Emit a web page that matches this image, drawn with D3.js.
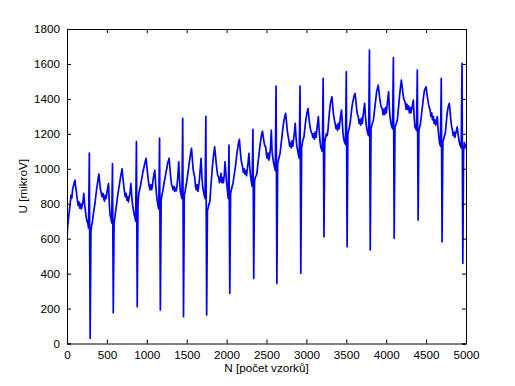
<!DOCTYPE html>
<html>
<head>
<meta charset="utf-8">
<script src="https://cdn.jsdelivr.net/npm/d3@7"></script>
<style>
  body { margin: 0; background: #fff; }
  svg { display: block; }
</style>
</head>
<body>
<div id="chart"></div>
<script>
// ECG record, one value every 10 samples (N = 0 .. 5000)
const sampleStep = 10
const voltage = [
  600, 680, 720, 760, 800, 850, 830, 880, 900, 920,
  935, 890, 860, 820, 790, 810, 775, 800, 770, 790,
  810, 860, 800, 760, 725, 700, 690, 660, 1090, 30,
  640, 680, 700, 740, 770, 800, 840, 880, 910, 945,
  970, 920, 880, 860, 840, 860, 830, 815, 850, 830,
  860, 890, 915, 800, 735, 720, 690, 1030, 176, 690,
  720, 760, 790, 830, 860, 890, 920, 950, 975, 1000,
  950, 910, 870, 840, 860, 820, 840, 810, 840, 860,
  915, 850, 800, 770, 740, 725, 700, 1155, 211, 800,
  860, 880, 900, 930, 950, 980, 1000, 1020, 1040, 1060,
  1020, 970, 930, 900, 880, 910, 880, 900, 940, 970,
  992, 920, 860, 820, 790, 770, 1175, 192, 820, 850,
  870, 900, 930, 950, 980, 1000, 1030, 1045, 1060, 1000,
  950, 910, 897, 880, 900, 870, 890, 875, 910, 960,
  1040, 940, 870, 850, 830, 1288, 153, 850, 870, 900,
  925, 960, 990, 1030, 1060, 1090, 1117, 1060, 1000, 970,
  954, 900, 880, 910, 870, 900, 940, 1000, 1060, 960,
  900, 870, 850, 830, 1300, 163, 760, 780, 800, 811,
  880, 940, 1000, 1050, 1090, 1126, 1080, 1030, 990, 960,
  954, 920, 940, 974, 920, 950, 920, 960, 1040, 980,
  920, 878, 830, 1136, 287, 860, 880, 900, 916, 950,
  980, 1010, 1050, 1090, 1120, 1150, 1168, 1110, 1060, 1030,
  1011, 980, 1000, 970, 990, 960, 1000, 1040, 1088, 1010,
  960, 926, 900, 1225, 373, 930, 950, 960, 974, 1020,
  1060, 1100, 1140, 1170, 1200, 1215, 1180, 1150, 1130, 1126,
  1080, 1060, 1090, 1050, 1080, 1120, 1221, 1100, 1060, 1031,
  1010, 990, 1473, 344, 1030, 1050, 1070, 1088, 1130, 1170,
  1210, 1250, 1280, 1300, 1317, 1270, 1220, 1190, 1164, 1130,
  1150, 1120, 1160, 1130, 1170, 1210, 1260, 1180, 1130, 1107,
  1080, 1060, 1473, 402, 1120, 1150, 1170, 1183, 1230, 1270,
  1300, 1325, 1345, 1300, 1260, 1230, 1210, 1202, 1180, 1200,
  1170, 1210, 1180, 1220, 1260, 1298, 1220, 1160, 1126, 1110,
  1100, 1517, 611, 1150, 1180, 1200, 1190, 1220, 1280, 1330,
  1370, 1395, 1412, 1360, 1310, 1280, 1260, 1230, 1250, 1220,
  1260, 1230, 1270, 1310, 1336, 1260, 1200, 1164, 1150, 1140,
  1555, 554, 1200, 1220, 1240, 1270, 1310, 1350, 1380, 1400,
  1420, 1431, 1390, 1340, 1310, 1298, 1260, 1280, 1250, 1290,
  1260, 1300, 1340, 1374, 1300, 1250, 1221, 1200, 1190, 1679,
  535, 1230, 1250, 1265, 1279, 1320, 1360, 1400, 1440, 1460,
  1479, 1440, 1400, 1370, 1350, 1345, 1310, 1340, 1310, 1350,
  1320, 1360, 1400, 1441, 1340, 1290, 1260, 1240, 1230, 1637,
  602, 1240, 1250, 1265, 1279, 1330, 1380, 1430, 1470, 1508,
  1470, 1430, 1400, 1390, 1374, 1340, 1370, 1340, 1360, 1320,
  1350, 1320, 1340, 1370, 1393, 1300, 1240, 1230, 1220, 1565,
  707, 1220, 1240, 1260, 1300, 1340, 1380, 1420, 1450, 1460,
  1469, 1430, 1400, 1370, 1350, 1336, 1300, 1320, 1280, 1300,
  1260, 1280, 1250, 1270, 1298, 1230, 1180, 1145, 1130, 1517,
  582, 1150, 1170, 1190, 1202, 1250, 1300, 1340, 1360, 1374,
  1330, 1280, 1240, 1221, 1190, 1210, 1180, 1200, 1220, 1240,
  1200, 1170, 1145, 1130, 1120, 1603, 459, 1100, 1150, 1120,
  1140
]

const xTicks = [0, 500, 1000, 1500, 2000, 2500, 3000, 3500, 4000, 4500, 5000]
const yTicks = [0, 200, 400, 600, 800, 1000, 1200, 1400, 1600, 1800]
const xTitle = "N [počet vzorků]"
const yTitle = "U [mikroV]"

const size = [515, 386]
const margin = {top: 29, right: 49, bottom: 42.5, left: 67}
const font = "'Liberation Sans', Arial, sans-serif"

const x = d3.scaleLinear([0, 5000], [margin.left, size[0] - margin.right])
const y = d3.scaleLinear([0, 1800], [size[1] - margin.bottom, margin.top])

const svg = d3.select("#chart").append("svg")
  .attr("width", size[0])
  .attr("height", size[1])

svg.append("defs").append("clipPath")
    .attr("id", "plot-clip")
  .append("rect")
    .attr("x", x(0))
    .attr("y", y(1800))
    .attr("width", x(5000) - x(0))
    .attr("height", y(0) - y(1800))

const line = d3.line()
  .x((d, i) => x(i * sampleStep))
  .y(d => y(d))

svg.append("path")
  .datum(voltage)
  .attr("clip-path", "url(#plot-clip)")
  .attr("fill", "none")
  .attr("stroke", "#0000ff")
  .attr("stroke-width", 1.7)
  .attr("stroke-linejoin", "round")
  .attr("d", line)

// matlab style box, ticks pointing inwards on all four sides
const tick = 4
const axes = svg.append("g")
  .attr("font-family", font)
  .attr("font-size", 11.7)
  .attr("fill", "#000")

axes.append("g")
  .attr("transform", `translate(0,${y(0)})`)
  .call(d3.axisBottom(x).tickValues(xTicks).tickSize(-tick).tickPadding(7).tickFormat(d3.format("d")))
axes.append("g")
  .attr("transform", `translate(0,${y(1800)})`)
  .call(d3.axisTop(x).tickValues(xTicks).tickSize(-tick).tickFormat(""))
axes.append("g")
  .attr("transform", `translate(${x(0)},0)`)
  .call(d3.axisLeft(y).tickValues(yTicks).tickSize(-tick).tickPadding(7).tickFormat(d3.format("d")))
axes.append("g")
  .attr("transform", `translate(${x(5000)},0)`)
  .call(d3.axisRight(y).tickValues(yTicks).tickSize(-tick).tickFormat(""))

axes.selectAll(".domain").attr("stroke", "#000")
axes.selectAll(".tick line").attr("stroke", "#000")
axes.selectAll(".tick text")
  .attr("font-family", font)
  .attr("font-size", 11.7)
  .attr("fill", "#000")

svg.append("text")
  .attr("x", (x(0) + x(5000)) / 2)
  .attr("y", 372)
  .attr("text-anchor", "middle")
  .attr("font-family", font)
  .attr("font-size", 11.7)
  .text(xTitle)

svg.append("text")
  .attr("transform", `translate(27,${(y(0) + y(1800)) / 2}) rotate(-90)`)
  .attr("text-anchor", "middle")
  .attr("font-family", font)
  .attr("font-size", 11.7)
  .text(yTitle)
</script>
</body>
</html>
